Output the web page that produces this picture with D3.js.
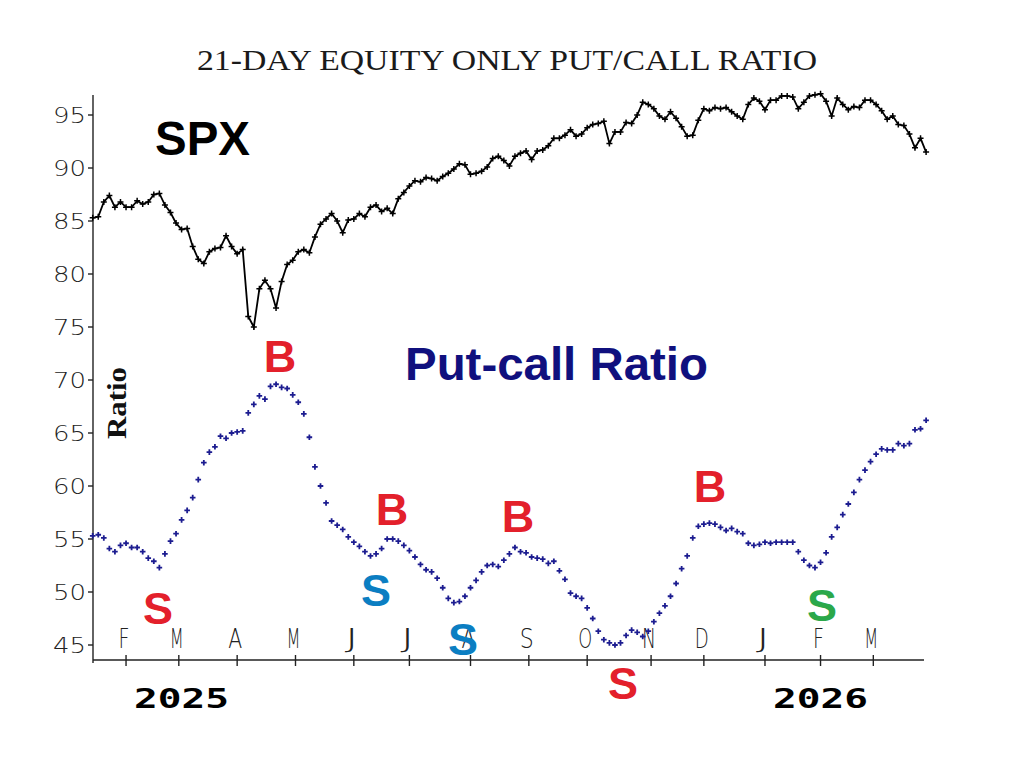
<!DOCTYPE html>
<html>
<head>
<meta charset="utf-8">
<script src="https://d3js.org/d3.v7.min.js"></script>
<style>
body { margin: 0; background: #fff; }
</style>
</head>
<body>
<script>
// one reading every 2nd trading day, mid Jan 2025 .. late Mar 2026
var spx = [85.3,85.4,86.8,87.4,86.3,86.8,86.3,86.3,86.9,86.6,
  86.8,87.5,87.6,86.5,85.8,84.8,84.2,84.3,82.6,81.4,
  81.0,82.1,82.4,82.5,83.6,82.6,81.9,82.3,76.0,75.0,
  78.6,79.4,78.6,76.8,79.3,80.9,81.3,82.1,82.3,82.0,
  83.5,84.7,85.2,85.7,85.0,83.9,85.1,85.2,85.7,85.4,
  86.3,86.5,85.9,86.2,85.7,87.1,87.7,88.3,88.8,88.7,
  89.1,89.0,88.8,89.2,89.5,89.9,90.4,90.3,89.4,89.5,
  89.7,90.1,90.9,91.1,90.7,90.2,91.1,91.4,91.6,90.8,
  91.6,91.7,92.1,92.8,92.8,93.1,93.6,93.0,93.2,93.8,
  94.1,94.2,94.4,92.3,93.4,93.4,94.3,94.2,95.0,96.2,
  96.0,95.6,94.9,94.6,95.3,94.7,93.9,93.0,93.1,94.5,
  95.6,95.4,95.7,95.6,95.7,95.3,94.9,94.6,96.0,96.6,
  96.3,95.5,96.4,96.4,96.8,96.8,96.7,95.6,96.2,96.8,
  96.9,97.0,96.3,94.9,96.6,96.0,95.5,95.8,95.7,96.4,
  96.4,96.0,95.4,94.6,94.9,94.1,94.0,93.2,91.9,92.8,
  91.5];

var putCall = [55.3,55.4,55.1,54.1,53.8,54.4,54.6,54.2,54.2,53.8,
  53.2,52.9,52.3,53.6,54.8,55.5,56.8,57.7,58.9,60.6,
  62.2,63.2,63.7,64.7,64.5,65.0,65.1,65.2,66.9,67.7,
  68.5,68.2,69.4,69.6,69.3,69.2,68.6,67.9,66.8,64.6,
  61.8,60.0,58.4,56.7,56.3,55.9,55.2,54.7,54.3,53.8,
  53.4,53.6,54.1,55.0,55.0,54.8,54.4,53.9,53.3,52.6,
  52.1,51.9,51.3,50.4,49.4,49.0,49.1,49.6,50.4,51.1,
  51.9,52.5,52.6,52.4,53.0,53.6,54.2,53.8,53.7,53.3,
  53.2,53.1,52.7,52.9,52.0,51.2,49.9,49.6,49.4,48.5,
  47.5,46.3,45.5,45.2,45.0,45.2,45.9,46.4,46.2,45.8,
  46.3,47.2,48.0,48.7,49.6,50.8,52.2,53.4,55.1,56.2,
  56.4,56.5,56.4,56.1,55.8,56.0,55.7,55.5,54.6,54.4,
  54.5,54.7,54.6,54.7,54.7,54.7,54.7,53.8,53.0,52.5,
  52.3,52.8,53.7,55.2,56.1,57.3,58.3,59.4,60.6,61.5,
  62.3,63.0,63.5,63.4,63.4,64.0,63.8,64.0,65.3,65.4,
  66.2];

var dayStep = 2;
var lastDay = 300;

var monthLabels = ["F","M","A","M","J","J","A","S","O","N","D","J","F","M"];
var monthDays   = [12,31,52,73,94,114,136,157,178,201,220,242,262,281];

var yTicks = [45,50,55,60,65,70,75,80,85,90,95];

var yearLabels = ["2025","2026"];
var yearDays   = [32,262];

// buy / sell marks: letter, trading day, chart value, kind
var signalText  = ["B","B","B","B","S","S","S","S","S"];
var signalDay   = [67.4,107.7,153.1,222.2,23.5,102,133.3,190.9,262.5];
var signalValue = [70.75,56.3,55.66,58.5,46.98,48.68,44.06,39.9,47.3];
var signalKind  = ["buy","buy","buy","buy","sell","early","early","sell","new"];

var kindColor = {buy:"#e3202b", sell:"#e3202b", early:"#0b7ec2", new:"#2ba84a"};

var width = 1018, height = 761;

var x = d3.scaleLinear().domain([0, lastDay]).range([92.7, 926.1]);
var y = d3.scaleLinear().domain([45, 95]).range([645, 115]);

var svg = d3.select("body").append("svg")
  .attr("width", width)
  .attr("height", height)
  .style("display", "block");

svg.append("rect").attr("width", width).attr("height", height).attr("fill", "#fff");

// title
svg.append("text")
  .attr("x", 507).attr("y", 70)
  .attr("text-anchor", "middle")
  .attr("font-family", "Liberation Serif, serif")
  .attr("font-size", 30)
  .attr("fill", "#1a1a1a")
  .attr("textLength", 620)
  .attr("lengthAdjust", "spacingAndGlyphs")
  .text("21-DAY EQUITY ONLY PUT/CALL RATIO");

// axes
var axisG = svg.append("g").attr("stroke", "#222").attr("stroke-width", 1.4);
axisG.append("line").attr("x1", 93).attr("x2", 93).attr("y1", 95).attr("y2", 663);
axisG.append("line").attr("x1", 93).attr("x2", 924).attr("y1", 660).attr("y2", 660);

axisG.selectAll(".yt").data(yTicks).enter().append("line")
  .attr("x1", 88).attr("x2", 93)
  .attr("y1", function(d) { return y(d); })
  .attr("y2", function(d) { return y(d); });

axisG.selectAll(".xt").data(monthDays).enter().append("line")
  .attr("x1", function(d) { return x(d); })
  .attr("x2", function(d) { return x(d); })
  .attr("y1", 655).attr("y2", 666);

svg.selectAll(".ylab").data(yTicks).enter().append("text")
  .attr("x", 86)
  .attr("y", function(d) { return y(d) + 7.5; })
  .attr("text-anchor", "end")
  .attr("font-family", "DejaVu Sans, sans-serif")
  .attr("font-weight", 200)
  .attr("font-size", 21)
  .attr("fill", "#222")
  .attr("textLength", 33)
  .attr("lengthAdjust", "spacingAndGlyphs")
  .text(function(d) { return d; });

svg.selectAll(".xlab").data(monthLabels).enter().append("text")
  .attr("x", function(d, i) { return x(monthDays[i]) - 2; })
  .attr("y", 648)
  .attr("text-anchor", "middle")
  .attr("font-family", "DejaVu Sans, sans-serif")
  .attr("font-weight", 200)
  .attr("font-size", 27)
  .attr("fill", "#222")
  .attr("textLength", function(d) { return d == "F" ? 11 : 14; })
  .attr("lengthAdjust", "spacingAndGlyphs")
  .text(function(d) { return d; });

svg.selectAll(".year").data(yearLabels).enter().append("text")
  .attr("x", function(d, i) { return x(yearDays[i]); })
  .attr("y", 708)
  .attr("text-anchor", "middle")
  .attr("font-family", "DejaVu Sans Mono, monospace")
  .attr("font-weight", "bold")
  .attr("font-size", 27)
  .attr("fill", "#000")
  .attr("textLength", 95)
  .attr("lengthAdjust", "spacingAndGlyphs")
  .text(function(d) { return d; });

svg.append("text")
  .attr("transform", "translate(126,403) rotate(-90)")
  .attr("text-anchor", "middle")
  .attr("font-family", "Liberation Serif, serif")
  .attr("font-weight", "bold")
  .attr("font-size", 28)
  .attr("fill", "#111")
  .attr("textLength", 72)
  .attr("lengthAdjust", "spacingAndGlyphs")
  .text("Ratio");

// plus markers
function plus(s) {
  return "M" + (-s) + ",0H" + s + "M0," + (-s) + "V" + s;
}

// SPX line
var spxLine = d3.line()
  .x(function(d, i) { return x(i * dayStep); })
  .y(function(d) { return y(d); });

svg.append("path")
  .datum(spx)
  .attr("d", spxLine)
  .attr("fill", "none")
  .attr("stroke", "#000")
  .attr("stroke-width", 1.8);

svg.selectAll(".spxm").data(spx).enter().append("path")
  .attr("transform", function(d, i) { return "translate(" + x(i * dayStep) + "," + y(d) + ")"; })
  .attr("d", plus(3))
  .attr("stroke", "#000")
  .attr("stroke-width", 1.5);

// put/call ratio markers
svg.selectAll(".pcm").data(putCall).enter().append("path")
  .attr("transform", function(d, i) { return "translate(" + x(i * dayStep) + "," + y(d) + ")"; })
  .attr("d", plus(2.8))
  .attr("stroke", "#1c1c90")
  .attr("stroke-width", 1.8);

// series labels
svg.append("text")
  .attr("x", 155).attr("y", 155)
  .attr("font-family", "Liberation Sans, Arial, sans-serif")
  .attr("font-weight", "bold")
  .attr("font-size", 48)
  .attr("fill", "#000")
  .attr("textLength", 95)
  .attr("lengthAdjust", "spacingAndGlyphs")
  .text("SPX");

svg.append("text")
  .attr("x", 405).attr("y", 380)
  .attr("font-family", "Liberation Sans, Arial, sans-serif")
  .attr("font-weight", "bold")
  .attr("font-size", 46)
  .attr("fill", "#10107e")
  .attr("textLength", 303)
  .attr("lengthAdjust", "spacingAndGlyphs")
  .text("Put-call Ratio");

// buy / sell signals
svg.selectAll(".sig").data(signalText).enter().append("text")
  .attr("x", function(d, i) { return x(signalDay[i]); })
  .attr("y", function(d, i) { return y(signalValue[i]); })
  .attr("text-anchor", "middle")
  .attr("font-family", "Liberation Sans, Arial, sans-serif")
  .attr("font-weight", "bold")
  .attr("font-size", 45)
  .attr("fill", function(d, i) { return kindColor[signalKind[i]]; })
  .text(function(d) { return d; });
</script>
</body>
</html>
